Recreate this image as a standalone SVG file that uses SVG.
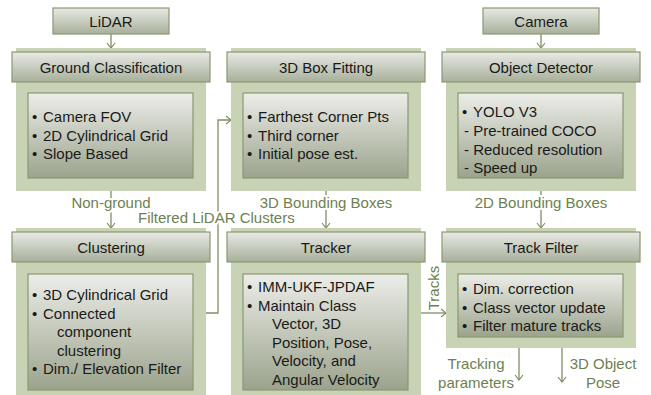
<svg xmlns="http://www.w3.org/2000/svg" width="651" height="395" viewBox="0 0 651 395">
<defs>
<linearGradient id="hdr" x1="0" y1="0" x2="0" y2="1">
<stop offset="0" stop-color="#e8eae4"/>
<stop offset="1" stop-color="#a7b09a"/>
</linearGradient>
<linearGradient id="inner" x1="0" y1="0" x2="0" y2="1">
<stop offset="0" stop-color="#ecede9"/>
<stop offset="1" stop-color="#9ba38c"/>
</linearGradient>
<marker id="arr" markerWidth="10" markerHeight="10" refX="8" refY="5" orient="auto" markerUnits="userSpaceOnUse">
<path d="M3,1 L8,5 L3,9" fill="none" stroke="#7f8f63" stroke-width="1.2"/>
</marker>
</defs>
<style>
.panel{fill:#c8d2b5;}
.hdr{fill:url(#hdr);stroke:#8a9872;stroke-width:1.2;}
.inner{fill:url(#inner);stroke:#8a9872;stroke-width:1.2;}
.t{font-family:"Liberation Sans",Arial,sans-serif;font-size:15px;fill:#1a1a1a;}
.c{text-anchor:middle;}
.lbl{font-family:"Liberation Sans",Arial,sans-serif;font-size:15px;fill:#6e7f50;stroke:#ffffff;stroke-width:4;paint-order:stroke;stroke-linejoin:round;}
.conn{fill:none;stroke:#7f8f63;stroke-width:1.3;}
</style>
<rect width="651" height="395" fill="#ffffff"/>

<g id="connectors">
<line class="conn" x1="111" y1="34" x2="111" y2="48" marker-end="url(#arr)"/>
<line class="conn" x1="541" y1="34" x2="541" y2="48" marker-end="url(#arr)"/>
<line class="conn" x1="111" y1="191" x2="111" y2="228" marker-end="url(#arr)"/>
<line class="conn" x1="326" y1="191" x2="326" y2="228" marker-end="url(#arr)"/>
<line class="conn" x1="541" y1="191" x2="541" y2="228" marker-end="url(#arr)"/>
<polyline class="conn" points="206,313 218,313 218,120 231,120" marker-end="url(#arr)"/>
<line class="conn" x1="420" y1="313" x2="446" y2="313" marker-end="url(#arr)"/>
<line class="conn" x1="519" y1="348" x2="519" y2="380" marker-end="url(#arr)"/>
<line class="conn" x1="562" y1="348" x2="562" y2="382" marker-end="url(#arr)"/>
<text class="lbl c" x="111" y="208">Non-ground</text>
<text class="lbl" x="138" y="223">Filtered LiDAR Clusters</text>
<text class="lbl c" x="326" y="208">3D Bounding Boxes</text>
<text class="lbl c" x="541" y="208">2D Bounding Boxes</text>
<text class="lbl c" x="439" y="288" transform="rotate(-90 439 288)">Tracks</text>
<text class="lbl c" x="476" y="369">Tracking</text>
<text class="lbl c" x="476" y="388">parameters</text>
<text class="lbl c" x="603" y="369">3D Object</text>
<text class="lbl c" x="603" y="388">Pose</text>
</g>

<g id="lidar">
<rect class="hdr" x="53" y="8" width="116" height="26"/>
<text class="t c" x="111" y="26.5">LiDAR</text>
</g>

<g id="camera">
<rect class="hdr" x="483" y="8" width="116" height="26"/>
<text class="t c" x="541" y="26.5">Camera</text>
</g>

<g id="ground-classification">
<rect class="panel" x="16" y="48" width="190" height="143"/>
<rect class="hdr" x="12" y="52" width="198" height="30"/>
<text class="t c" x="111" y="72.5">Ground Classification</text>
<rect class="inner" x="28" y="93" width="165" height="85"/>
<text class="t"><tspan x="32" y="122">•</tspan><tspan x="43" y="122">Camera FOV</tspan><tspan x="32" y="140.5">•</tspan><tspan x="43" y="140.5">2D Cylindrical Grid</tspan><tspan x="32" y="159">•</tspan><tspan x="43" y="159">Slope Based</tspan></text>
</g>

<g id="box-fitting">
<rect class="panel" x="231" y="48" width="190" height="143"/>
<rect class="hdr" x="227" y="52" width="198" height="30"/>
<text class="t c" x="326" y="72.5">3D Box Fitting</text>
<rect class="inner" x="243" y="93" width="165" height="85"/>
<text class="t"><tspan x="247" y="122">•</tspan><tspan x="258" y="122">Farthest Corner Pts</tspan><tspan x="247" y="140.5">•</tspan><tspan x="258" y="140.5">Third corner</tspan><tspan x="247" y="159">•</tspan><tspan x="258" y="159">Initial pose est.</tspan></text>
</g>

<g id="object-detector">
<rect class="panel" x="446" y="48" width="190" height="143"/>
<rect class="hdr" x="442" y="52" width="198" height="30"/>
<text class="t c" x="541" y="72.5">Object Detector</text>
<rect class="inner" x="458" y="93" width="165" height="85"/>
<text class="t"><tspan x="462" y="117">•</tspan><tspan x="473" y="117">YOLO V3</tspan><tspan x="464" y="136">- Pre-trained COCO</tspan><tspan x="464" y="154.5">- Reduced resolution</tspan><tspan x="464" y="173">- Speed up</tspan></text>
</g>

<g id="clustering">
<rect class="panel" x="16" y="228" width="190" height="167"/>
<rect class="hdr" x="12" y="232" width="198" height="30"/>
<text class="t c" x="111" y="252.5">Clustering</text>
<rect class="inner" x="28" y="274" width="165" height="116"/>
<text class="t"><tspan x="32" y="300">•</tspan><tspan x="43" y="300">3D Cylindrical Grid</tspan><tspan x="32" y="318.5">•</tspan><tspan x="43" y="318.5">Connected</tspan><tspan x="57" y="337">component</tspan><tspan x="57" y="355.5">clustering</tspan><tspan x="32" y="374">•</tspan><tspan x="43" y="374">Dim./ Elevation Filter</tspan></text>
</g>

<g id="tracker">
<rect class="panel" x="231" y="228" width="190" height="167"/>
<rect class="hdr" x="227" y="232" width="198" height="30"/>
<text class="t c" x="326" y="252.5">Tracker</text>
<rect class="inner" x="243" y="274" width="165" height="116"/>
<text class="t"><tspan x="247" y="292">•</tspan><tspan x="258" y="292">IMM-UKF-JPDAF</tspan><tspan x="247" y="310.5">•</tspan><tspan x="258" y="310.5">Maintain Class</tspan><tspan x="272" y="329">Vector, 3D</tspan><tspan x="272" y="347.5">Position, Pose,</tspan><tspan x="272" y="366">Velocity, and</tspan><tspan x="272" y="384.5">Angular Velocity</tspan></text>
</g>

<g id="track-filter">
<rect class="panel" x="446" y="228" width="190" height="120"/>
<rect class="hdr" x="442" y="232" width="198" height="30"/>
<text class="t c" x="541" y="252.5">Track Filter</text>
<rect class="inner" x="458" y="274" width="165" height="63"/>
<text class="t"><tspan x="462" y="294">•</tspan><tspan x="473" y="294">Dim. correction</tspan><tspan x="462" y="312.5">•</tspan><tspan x="473" y="312.5">Class vector update</tspan><tspan x="462" y="331">•</tspan><tspan x="473" y="331">Filter mature tracks</tspan></text>
</g>
</svg>
